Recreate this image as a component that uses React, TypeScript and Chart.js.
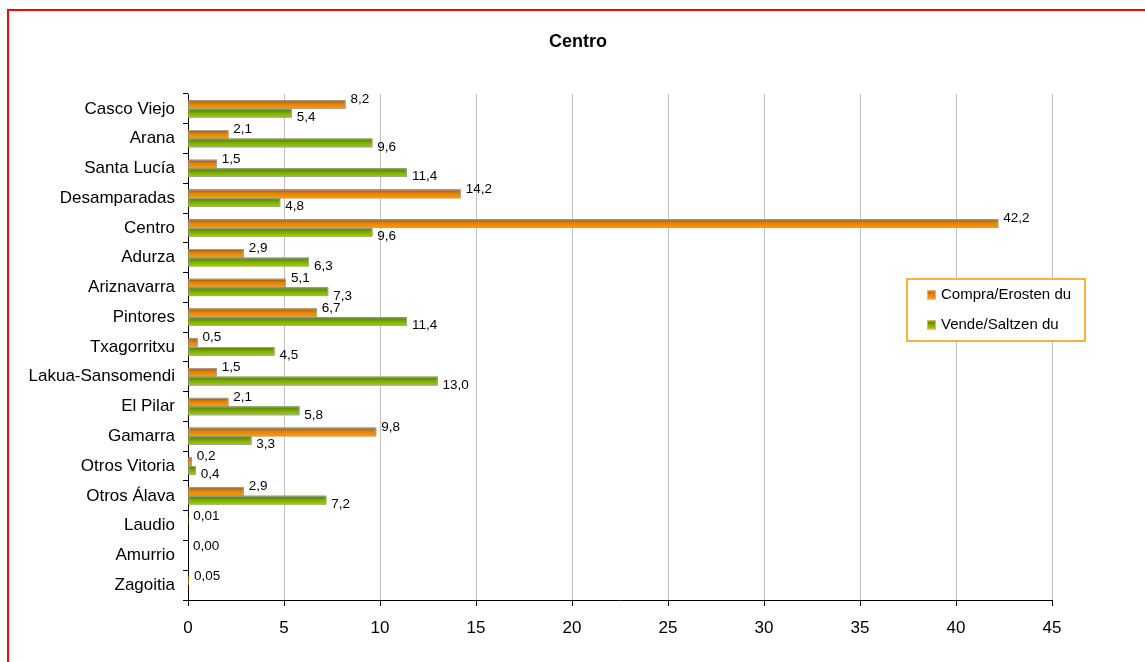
import React, { useEffect, useRef } from "react";
import { Chart, registerables } from "chart.js";

Chart.register(...registerables);

const categories = [
  "Casco Viejo", "Arana", "Santa Lucía", "Desamparadas", "Centro", "Adurza",
  "Ariznavarra", "Pintores", "Txagorritxu", "Lakua-Sansomendi", "El Pilar",
  "Gamarra", "Otros Vitoria", "Otros Álava", "Laudio", "Amurrio", "Zagoitia",
];
const compra = [8.2, 2.1, 1.5, 14.2, 42.2, 2.9, 5.1, 6.7, 0.5, 1.5, 2.1, 9.8, 0.2, 2.9, 0.01, 0.0, 0.05];
const vende: (number | null)[] = [5.4, 9.6, 11.4, 4.8, 9.6, 6.3, 7.3, 11.4, 4.5, 13.0, 5.8, 3.3, 0.4, 7.2, null, null, null];
const seriesNames = ["Compra/Erosten du", "Vende/Saltzen du"];
const titleText = "Centro";
const xMin = 0;
const xMax = 45;
const xStep = 5;

const FONT = '"Liberation Sans", Arial, sans-serif';

const fmt = (v: number) => {
  const d = v < 0.1 ? 2 : 1;
  return v.toFixed(d).replace(".", ",");
};

const orangeStops: [number, string][] = [[0, "#9a5812"], [0.45, "#e0840a"], [1, "#ff9c00"]];
const greenStops: [number, string][] = [[0, "#4d7808"], [0.5, "#7cad00"], [1, "#a0d000"]];

const barStylePlugin = {
  id: "barStyle",
  afterDatasetsDraw(chart: any) {
    const ctx = chart.ctx;
    chart.data.datasets.forEach((ds: any, i: number) => {
      const meta = chart.getDatasetMeta(i);
      const stops = i === 0 ? orangeStops : greenStops;
      meta.data.forEach((el: any, j: number) => {
        const v = ds.data[j];
        if (v == null) return;
        const { x, y, base, height } = el.getProps(["x", "y", "base", "height"], true);
        const top = y - height / 2;
        const w = x - base;
        if (w <= 0.3) return;
        const g = ctx.createLinearGradient(0, top, 0, top + height);
        stops.forEach(([o, c]) => g.addColorStop(o, c));
        ctx.save();
        ctx.fillStyle = g;
        ctx.fillRect(base, top, w, height);
        if (w > 2) {
          ctx.strokeStyle = "rgba(165,165,165,0.9)";
          ctx.lineWidth = 1;
          ctx.strokeRect(base + 0.5, top + 0.5, w - 1, height - 1);
        }
        ctx.restore();
      });
    });
    // value labels
    ctx.save();
    ctx.font = `13.5px ${FONT}`;
    ctx.fillStyle = "#000";
    ctx.textAlign = "left";
    ctx.textBaseline = "middle";
    chart.data.datasets.forEach((ds: any, i: number) => {
      const meta = chart.getDatasetMeta(i);
      const dy = i === 0 ? -5 : 4;
      meta.data.forEach((el: any, j: number) => {
        const v = ds.data[j];
        if (v == null) return;
        const { x, y } = el.getProps(["x", "y"], true);
        ctx.fillText(fmt(v), x + 5, y + dy);
      });
    });
    ctx.restore();
  },
  afterDraw(chart: any) {
    const ctx = chart.ctx;
    ctx.save();
    // title
    ctx.font = `bold 18px ${FONT}`;
    ctx.fillStyle = "#000";
    ctx.textAlign = "center";
    ctx.textBaseline = "middle";
    ctx.fillText(titleText, 578, 42);
    // legend
    const bx = 907, by = 279, bw = 178, bh = 62;
    ctx.fillStyle = "#fff";
    ctx.fillRect(bx, by, bw, bh);
    ctx.strokeStyle = "#ff9900";
    ctx.lineWidth = 1.5;
    ctx.strokeRect(bx, by, bw, bh);
    seriesNames.forEach((name, i) => {
      const cy = by + 16 + i * 30;
      const sx = 927, s = 9;
      const stops = i === 0 ? orangeStops : greenStops;
      const g = ctx.createLinearGradient(0, cy - s / 2, 0, cy + s / 2);
      stops.forEach(([o, c]) => g.addColorStop(o, c));
      ctx.fillStyle = g;
      ctx.fillRect(sx, cy - s / 2, s, s);
      ctx.strokeStyle = "#ffb040";
      ctx.lineWidth = 1;
      ctx.strokeRect(sx + 0.5, cy - s / 2 + 0.5, s - 1, s - 1);
      ctx.font = `15px ${FONT}`;
      ctx.fillStyle = "#000";
      ctx.textAlign = "left";
      ctx.textBaseline = "middle";
      ctx.fillText(name, 941, cy);
    });
    ctx.restore();
  },
};

export default function App() {
  const ref = useRef<HTMLCanvasElement>(null);
  useEffect(() => {
    if (!ref.current) return;
    const chart = new Chart(ref.current, {
      type: "bar",
      data: {
        labels: categories,
        datasets: [
          { label: seriesNames[0], data: compra, backgroundColor: "#e0840a", borderWidth: 0 },
          { label: seriesNames[1], data: vende, backgroundColor: "#7cad00", borderWidth: 0 },
        ],
      },
      options: {
        indexAxis: "y",
        animation: false,
        responsive: false,
        devicePixelRatio: 1,
        layout: { padding: { top: 94, right: 93, left: 0, bottom: 0 } },
        datasets: { bar: { categoryPercentage: 0.58, barPercentage: 1 } },
        plugins: { legend: { display: false }, title: { display: false }, tooltip: { enabled: false } },
        scales: {
          x: {
            type: "linear",
            min: xMin,
            max: xMax,
            ticks: { stepSize: xStep, font: { family: FONT, size: 17 }, color: "#000", padding: 12 },
            grid: { color: "#c0c0c0", tickColor: "#000", tickLength: 6, lineWidth: 1 },
            border: { display: true, color: "#000", width: 1 },
            afterFit: (s: any) => { s.height = 62; },
          },
          y: {
            type: "category",
            ticks: { font: { family: FONT, size: 17 }, color: "#000", padding: 8, autoSkip: false },
            grid: { drawOnChartArea: false, tickColor: "#000", tickLength: 5, offset: true },
            border: { display: true, color: "#000", width: 1 },
            afterFit: (s: any) => { s.width = 188; },
          },
        },
      },
      plugins: [barStylePlugin],
    } as any);
    return () => chart.destroy();
  }, []);
  return (
    <div style={{ position: "absolute", left: 0, top: 0, width: 1145, height: 662, overflow: "hidden", background: "#fff" }}>
      <canvas ref={ref} width={1145} height={662} style={{ display: "block" }} />
      <div
        style={{
          position: "absolute", left: 7, top: 9, width: 1300, height: 900,
          border: "2px solid #ff0000", pointerEvents: "none",
        }}
      />
    </div>
  );
}
